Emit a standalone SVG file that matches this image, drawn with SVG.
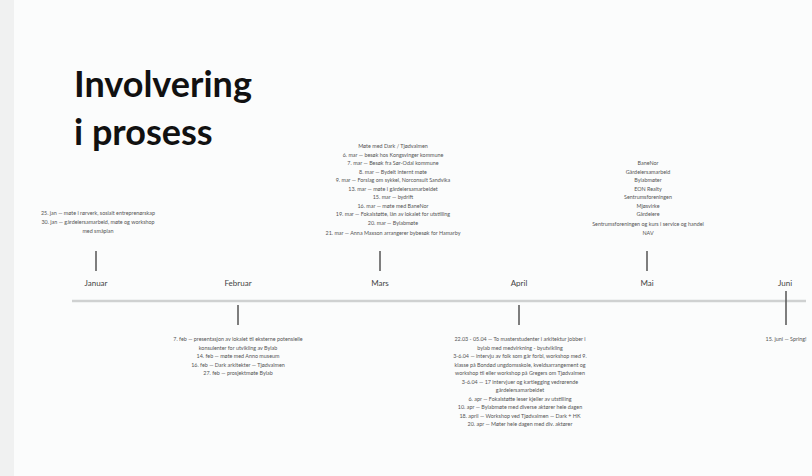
<svg xmlns="http://www.w3.org/2000/svg" width="812" height="476" viewBox="0 0 812 476">
<style>
.t{font-family:Lato,"Liberation Sans",sans-serif;font-size:5.4px;fill:#555;text-anchor:middle}
.m{font-family:Lato,"Liberation Sans",sans-serif;font-size:8px;fill:#444;text-anchor:middle}
.title{font-family:Lato,"Liberation Sans",sans-serif;font-weight:bold;font-size:36px;fill:#111}
.tick{stroke:#555;stroke-width:1.5}
</style>
<rect width="812" height="476" fill="#fbfcfc"/>
<rect x="0" y="0" width="14" height="476" fill="#f0f1f1"/>
<g id="title">
<text class="title" x="74" y="97">Involvering</text>
<text class="title" x="74" y="145">i prosess</text>
</g>
<g id="connectors">
<line x1="72" y1="301" x2="806" y2="301" stroke="#cfd1d1" stroke-width="2.5"/>
<line class="tick" x1="96" y1="251" x2="96" y2="271"/>
<line class="tick" x1="238" y1="305" x2="238" y2="325"/>
<line class="tick" x1="380" y1="251" x2="380" y2="271"/>
<line class="tick" x1="519" y1="305" x2="519" y2="325"/>
<line class="tick" x1="647" y1="251" x2="647" y2="271"/>
<line class="tick" x1="786" y1="291" x2="786" y2="325"/>
</g>
<g id="januar">
<text class="m" x="96" y="286">Januar</text>
<text class="t" x="98" y="215">25. jan — møte i rørverk, sosialt entreprenørskap</text>
<text class="t" x="98" y="224">30. jan — gårdeiersamarbeid, møte og workshop</text>
<text class="t" x="98" y="233">med småplan</text>
</g>
<g id="februar">
<text class="m" x="238" y="286">Februar</text>
<text class="t" x="238" y="341">7. feb — presentasjon av lokalet til eksterne potensielle</text>
<text class="t" x="238" y="349.5">konsulenter for utvikling av Bylab</text>
<text class="t" x="238" y="358">14. feb — møte med Anno museum</text>
<text class="t" x="238" y="366.5">16. feb — Dark arkitekter — Tjødvalmen</text>
<text class="t" x="238" y="375">27. feb — prosjektmøte Bylab</text>
</g>
<g id="mars">
<text class="m" x="380" y="286">Mars</text>
<text class="t" x="393" y="148">Møte med Dark / Tjødvalmen</text>
<text class="t" x="393" y="156.5">6. mar — besøk hos Kongsvinger kommune</text>
<text class="t" x="393" y="165">7. mar — Besøk fra Sør-Odal kommune</text>
<text class="t" x="393" y="173.5">8. mar — Bydelt internt møte</text>
<text class="t" x="393" y="182">9. mar — Forslag om sykkel, Norconsult Sandvika</text>
<text class="t" x="393" y="190.5">13. mar — møte i gårdeiersamarbeidet</text>
<text class="t" x="393" y="199">15. mar — bydrift</text>
<text class="t" x="393" y="207.5">16. mar — møte med BaneNor</text>
<text class="t" x="393" y="216">19. mar — Fokalstøtte, lån av lokalet for utstilling</text>
<text class="t" x="393" y="224.5">20. mar — Bylabmøte</text>
<text class="t" x="393" y="235">21. mar — Anna Maxson arrangerer bybesøk for Hamarby</text>
</g>
<g id="april">
<text class="m" x="519" y="286">April</text>
<text class="t" x="520" y="341">22.03 - 05.04 — To masterstudenter i arkitektur jobber i</text>
<text class="t" x="520" y="349.5">bylab med medvirkning - byutvikling</text>
<text class="t" x="520" y="358">3-6.04 — intervju av folk som går forbi, workshop med 9.</text>
<text class="t" x="520" y="366.5">klasse på Bondød ungdomsskole, kveldsarrangement og</text>
<text class="t" x="520" y="375">workshop til eller workshop på Gregers om Tjødvalmen</text>
<text class="t" x="520" y="383.5">3-6.04 — 17 intervjuer og kartlegging vedrørende</text>
<text class="t" x="520" y="392">gårdeiersamarbeidet</text>
<text class="t" x="520" y="400.5">6. apr — Fokalstøtte leser kjeller av utstilling</text>
<text class="t" x="520" y="409">10. apr — Bylabmøte med diverse aktører hele dagen</text>
<text class="t" x="520" y="417.5">18. april — Workshop ved Tjødvalmen — Dark + HK</text>
<text class="t" x="520" y="426">20. apr — Møter hele dagen med div. aktører</text>
</g>
<g id="mai">
<text class="m" x="647" y="286">Mai</text>
<text class="t" x="648" y="165">BaneNor</text>
<text class="t" x="648" y="173.5">Gårdeiersamarbeid</text>
<text class="t" x="648" y="182">Bylabmøter</text>
<text class="t" x="648" y="190.5">EON Realty</text>
<text class="t" x="648" y="199">Sentrumsforeningen</text>
<text class="t" x="648" y="207.5">Mjøsvirke</text>
<text class="t" x="648" y="216">Gårdeiere</text>
<text class="t" x="648" y="226">Sentrumsforeningen og kurs i service og handel</text>
<text class="t" x="648" y="235">NAV</text>
</g>
<g id="juni">
<text class="m" x="785" y="286">Juni</text>
<text class="t" x="786" y="341">15. juni — Spring!</text>
</g>
</svg>
